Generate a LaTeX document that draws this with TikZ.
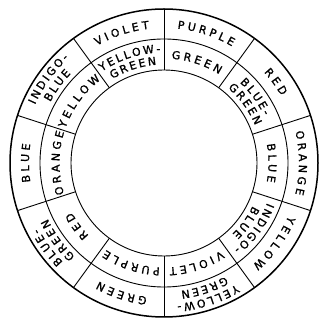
\documentclass[tikz,border=0pt]{standalone}
\usepackage{fontspec}
\newfontfamily\wf[FakeBold=1.2]{DejaVu Sans}
\newcommand\lf{\wf\fontsize{11}{13}\selectfont}
% advance widths of DejaVu Sans capitals, in em
\def\defcw#1#2{\expandafter\def\csname cw#1\endcsname{#2}}
\defcw{A}{0.684}\defcw{B}{0.686}\defcw{D}{0.770}\defcw{E}{0.632}
\defcw{G}{0.776}\defcw{I}{0.295}\defcw{L}{0.557}\defcw{N}{0.748}
\defcw{O}{0.787}\defcw{P}{0.603}\defcw{R}{0.695}\defcw{T}{0.611}
\defcw{U}{0.732}\defcw{V}{0.684}\defcw{W}{0.989}\defcw{Y}{0.611}
\defcw{-}{0.361}
\newcommand\fsz{11}
% #1 centre angle, #2 radius, #3 letter spacing, #4 letters, #5 name
\newcommand\ArcText[5]{%
  \gdef\arcTot{0}%
  \foreach \lt in {#4}{\pgfmathparse{\arcTot+\csname cw\lt\endcsname*\fsz+#3}\xdef\arcTot{\pgfmathresult}}%
  \pgfmathparse{\arcTot-#3}\xdef\arcTot{\pgfmathresult}%
  \gdef\arcPos{0}%
  \foreach \lt [count=\i] in {#4}{%
    \pgfmathsetmacro\ltw{\csname cw\lt\endcsname*\fsz}%
    \pgfmathsetmacro\ltang{#1+(\arcTot/2-\arcPos-\ltw/2)/(#2)*180/pi}%
    \node[letter,rotate=\ltang-90] (#5-\i) at (\ltang:#2pt) {\lt};
    \pgfmathparse{\arcPos+\ltw+#3}\xdef\arcPos{\pgfmathresult}%
  }%
}
\begin{document}
\begin{tikzpicture}[x=1pt,y=1pt,
  letter/.style={font=\lf,inner sep=0pt,text height=8pt,text depth=0pt,anchor=center},
  ring/.style={line width=0.9pt},
  rim/.style={line width=1.5pt}]
\useasboundingbox (0,0) rectangle (324,324);
\begin{scope}[shift={(164,161)}]
\draw[rim] (0,0) circle[radius=154];
\draw[ring] (0,0) circle[radius=124];
\draw[ring] (0,0) circle[radius=93];
\foreach \t in {90,126,...,414} \draw[ring] (\t:93pt) -- (\t:154pt);
% outer ring
\ArcText{108}{139}{3.5}{V,I,O,L,E,T}{o1}
\ArcText{72}{139}{3.5}{P,U,R,P,L,E}{o2}
\ArcText{36}{139}{3.5}{R,E,D}{o3}
\ArcText{0}{139}{3.5}{O,R,A,N,G,E}{o4}
\ArcText{-36}{139}{3.5}{Y,E,L,L,O,W}{o5}
\ArcText{-72}{145.5}{2.5}{Y,E,L,L,O,W,-}{o6a}
\ArcText{-72}{133}{2.5}{G,R,E,E,N}{o6b}
\ArcText{-108}{139}{3.5}{G,R,E,E,N}{o7}
\ArcText{-144}{145.5}{2.5}{B,L,U,E,-}{o8a}
\ArcText{-144}{133}{2.5}{G,R,E,E,N}{o8b}
\ArcText{180}{139}{3.5}{B,L,U,E}{o9}
\ArcText{144}{145.5}{2.5}{I,N,D,I,G,O,-}{o10a}
\ArcText{144}{133}{2.5}{B,L,U,E}{o10b}
% inner ring
\ArcText{108}{114.5}{2.5}{Y,E,L,L,O,W,-}{i1a}
\ArcText{108}{102.5}{2.5}{G,R,E,E,N}{i1b}
\ArcText{72}{108.5}{3.5}{G,R,E,E,N}{i2}
\ArcText{36}{114.5}{2.5}{B,L,U,E,-}{i3a}
\ArcText{36}{102.5}{2.5}{G,R,E,E,N}{i3b}
\ArcText{0}{108.5}{3.5}{B,L,U,E}{i4}
\ArcText{-36}{114.5}{2.5}{I,N,D,I,G,O,-}{i5a}
\ArcText{-36}{102.5}{2.5}{B,L,U,E}{i5b}
\ArcText{-72}{108.5}{3.5}{V,I,O,L,E,T}{i6}
\ArcText{-108}{108.5}{3.5}{P,U,R,P,L,E}{i7}
\ArcText{-144}{108.5}{3.5}{R,E,D}{i8}
\ArcText{180}{108.5}{3.5}{O,R,A,N,G,E}{i9}
\ArcText{144}{108.5}{3.5}{Y,E,L,L,O,W}{i10}
\end{scope}
\end{tikzpicture}
\end{document}
